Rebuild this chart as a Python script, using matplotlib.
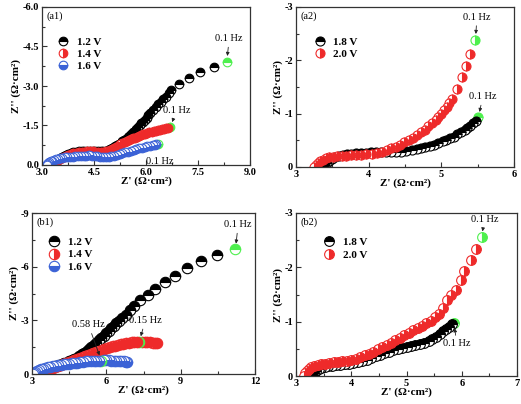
import matplotlib
matplotlib.use('Agg')
import matplotlib.pyplot as plt
from matplotlib.ticker import MultipleLocator, FormatStrFormatter

plt.rcParams['font.family'] = ['Liberation Serif', 'DejaVu Serif']
plt.rcParams['axes.unicode_minus'] = False

# ---- data (Z' , Z'') ----
# (a1)
a1_re_12 = [3.30,3.33,3.37,3.41,3.46,3.51,3.57,3.63,3.69,3.76,3.83,3.90,3.98,4.06,4.14,4.22,4.30,4.38,4.46,4.54,
            4.62,4.70,4.77,4.84,4.90,4.96,5.02,5.07,5.12,5.17,5.22,5.27,5.32,5.37,5.42,5.47,5.52,5.57,5.62,5.67,
            5.72,5.77,5.82,5.87,5.92,5.97,6.02,6.07,6.12,6.20,6.28,6.35,6.42,6.50,6.57,6.65,6.73,6.94,7.23,7.56,
            7.95,8.33]
a1_im_12 = [0,-0.05,-0.10,-0.15,-0.20,-0.25,-0.30,-0.34,-0.38,-0.42,-0.45,-0.48,-0.50,-0.52,-0.53,-0.54,-0.55,-0.55,-0.55,-0.54,
            -0.53,-0.52,-0.52,-0.53,-0.56,-0.59,-0.63,-0.67,-0.71,-0.75,-0.80,-0.85,-0.90,-0.95,-1.00,-1.06,-1.12,-1.18,-1.24,-1.30,
            -1.37,-1.44,-1.51,-1.58,-1.65,-1.72,-1.80,-1.88,-1.96,-2.08,-2.20,-2.30,-2.40,-2.50,-2.60,-2.72,-2.85,-3.07,-3.32,-3.54,
            -3.73,-3.93]
a1_re_14 = [3.30,3.33,3.37,3.41,3.46,3.51,3.57,3.63,3.69,3.76,3.83,3.90,3.98,4.06,4.14,4.22,4.30,4.38,4.46,4.54,
            4.62,4.70,4.77,4.84,4.90,4.96,5.02,5.08,5.14,5.20,5.26,5.32,5.38,5.44,5.50,5.56,5.62,5.68,5.74,5.80,
            5.86,5.92,5.98,6.04,6.10,6.16,6.22,6.28,6.34,6.40,6.46,6.52,6.58,6.64,6.70]
a1_im_14 = [0,-0.05,-0.10,-0.14,-0.19,-0.23,-0.28,-0.32,-0.36,-0.39,-0.42,-0.45,-0.47,-0.49,-0.50,-0.51,-0.52,-0.52,-0.52,-0.51,
            -0.50,-0.50,-0.50,-0.52,-0.55,-0.58,-0.62,-0.66,-0.70,-0.74,-0.78,-0.82,-0.86,-0.90,-0.94,-0.97,-1.01,-1.04,-1.07,-1.10,
            -1.13,-1.16,-1.19,-1.21,-1.24,-1.26,-1.28,-1.30,-1.32,-1.34,-1.36,-1.38,-1.40,-1.42,-1.43]
a1_re_16 = [3.13,3.15,3.18,3.21,3.25,3.29,3.34,3.39,3.45,3.51,3.58,3.65,3.72,3.80,3.88,3.96,4.04,4.12,4.20,4.28,
            4.36,4.44,4.52,4.60,4.68,4.76,4.84,4.92,5.00,5.08,5.16,5.24,5.32,5.40,5.48,5.56,5.64,5.72,5.80,5.88,
            5.96,6.04,6.12,6.19,6.25,6.30,6.34]
a1_im_16 = [0,-0.04,-0.08,-0.11,-0.14,-0.17,-0.20,-0.22,-0.24,-0.26,-0.28,-0.29,-0.30,-0.31,-0.32,-0.33,-0.34,-0.35,-0.36,-0.36,
            -0.37,-0.36,-0.35,-0.34,-0.32,-0.31,-0.30,-0.31,-0.33,-0.36,-0.39,-0.42,-0.45,-0.48,-0.51,-0.54,-0.57,-0.60,-0.63,-0.66,
            -0.68,-0.71,-0.73,-0.75,-0.77,-0.78,-0.79]

# (a2)
a2_re_18 = [3.38,3.40,3.43,3.46,3.50,3.54,3.59,3.64,3.70,3.76,3.82,3.89,3.96,4.03,4.10,4.17,4.24,4.31,4.38,4.45,
            4.52,4.59,4.66,4.72,4.78,4.84,4.90,4.96,5.02,5.07,5.12,5.17,5.22,5.27,5.32,5.36,5.40,5.44,5.48,5.51]
a2_im_18 = [0,-0.04,-0.08,-0.12,-0.15,-0.18,-0.20,-0.22,-0.24,-0.25,-0.26,-0.27,-0.27,-0.28,-0.28,-0.28,-0.28,-0.28,-0.28,-0.29,
            -0.30,-0.31,-0.33,-0.35,-0.37,-0.39,-0.42,-0.45,-0.48,-0.51,-0.54,-0.57,-0.61,-0.65,-0.69,-0.73,-0.77,-0.82,-0.87,-0.93]
a2_re_20 = [3.25,3.27,3.30,3.33,3.37,3.41,3.46,3.51,3.57,3.63,3.69,3.76,3.83,3.90,3.97,4.04,4.11,4.18,4.25,4.31,
            4.37,4.43,4.49,4.55,4.61,4.67,4.72,4.77,4.82,4.87,4.92,4.96,5.00,5.04,5.08,5.11,5.14,5.21,5.28,5.34,
            5.40,5.47]
a2_im_20 = [0,-0.04,-0.08,-0.11,-0.14,-0.16,-0.18,-0.19,-0.20,-0.21,-0.21,-0.22,-0.22,-0.23,-0.24,-0.25,-0.27,-0.29,-0.32,-0.35,
            -0.38,-0.42,-0.46,-0.50,-0.55,-0.60,-0.65,-0.70,-0.76,-0.82,-0.88,-0.94,-1.00,-1.06,-1.13,-1.20,-1.27,-1.47,-1.68,-1.89,
            -2.12,-2.39]

# (b1)
b1_re_12 = [3.30,3.35,3.41,3.48,3.56,3.64,3.73,3.82,3.91,4.00,4.10,4.20,4.30,4.40,4.50,4.60,4.70,4.80,4.90,5.00,
            5.10,5.20,5.30,5.40,5.50,5.60,5.70,5.80,5.90,6.00,6.10,6.20,6.30,6.40,6.50,6.64,6.80,6.96,7.13,7.37,
            7.67,7.98,8.36,8.77,9.27,9.82,10.46,11.21]
b1_im_12 = [0,-0.06,-0.12,-0.18,-0.24,-0.29,-0.34,-0.38,-0.42,-0.46,-0.50,-0.54,-0.59,-0.64,-0.70,-0.77,-0.84,-0.92,-1.01,-1.10,
            -1.20,-1.30,-1.41,-1.52,-1.64,-1.76,-1.88,-2.01,-2.14,-2.27,-2.41,-2.55,-2.69,-2.84,-2.97,-3.12,-3.32,-3.55,-3.81,-4.15,
            -4.43,-4.74,-5.12,-5.49,-5.92,-6.29,-6.67,-6.98]
b1_re_14 = [3.25,3.31,3.38,3.46,3.55,3.64,3.74,3.84,3.94,4.05,4.16,4.27,4.38,4.49,4.60,4.71,4.82,4.93,5.04,5.15,
            5.26,5.37,5.48,5.59,5.70,5.81,5.92,6.03,6.14,6.25,6.36,6.47,6.58,6.69,6.80,6.91,7.02,7.12,7.22,7.33,
            7.44,7.55,7.66,7.77,7.88,7.97,8.05]
b1_im_14 = [0,-0.06,-0.12,-0.17,-0.22,-0.27,-0.32,-0.36,-0.40,-0.45,-0.50,-0.55,-0.61,-0.67,-0.73,-0.79,-0.85,-0.91,-0.97,-1.03,
            -1.09,-1.14,-1.19,-1.24,-1.29,-1.34,-1.39,-1.44,-1.49,-1.54,-1.58,-1.62,-1.66,-1.69,-1.72,-1.75,-1.77,-1.79,-1.80,-1.81,
            -1.81,-1.80,-1.79,-1.77,-1.75,-1.73,-1.72]
b1_re_16 = [3.05,3.09,3.14,3.20,3.27,3.35,3.44,3.53,3.63,3.73,3.84,3.95,4.06,4.17,4.28,4.39,4.50,4.61,4.72,4.83,
            4.94,5.05,5.16,5.27,5.38,5.49,5.60,5.70,5.80,5.90,6.00,6.10,6.20,6.30,6.40,6.50,6.60,6.70,6.78,6.82]
b1_im_16 = [0,-0.06,-0.12,-0.17,-0.22,-0.26,-0.30,-0.34,-0.37,-0.40,-0.43,-0.46,-0.49,-0.51,-0.54,-0.56,-0.58,-0.60,-0.62,-0.64,
            -0.66,-0.68,-0.70,-0.71,-0.72,-0.73,-0.74,-0.75,-0.75,-0.76,-0.76,-0.76,-0.75,-0.74,-0.73,-0.72,-0.71,-0.70,-0.69,-0.68]

# (b2)
b2_re_18 = [3.30,3.33,3.37,3.41,3.46,3.52,3.58,3.65,3.72,3.80,3.88,3.96,4.04,4.12,4.20,4.28,4.36,4.44,4.52,4.60,
            4.68,4.76,4.84,4.92,5.00,5.08,5.16,5.24,5.32,5.40,5.47,5.54,5.60,5.66,5.72,5.77,5.82,5.86]
b2_im_18 = [0,-0.05,-0.09,-0.12,-0.15,-0.17,-0.18,-0.19,-0.20,-0.21,-0.22,-0.23,-0.24,-0.26,-0.28,-0.30,-0.33,-0.36,-0.39,-0.42,
            -0.45,-0.48,-0.50,-0.52,-0.54,-0.55,-0.57,-0.59,-0.61,-0.64,-0.68,-0.72,-0.77,-0.82,-0.87,-0.91,-0.95,-0.98]
b2_re_20 = [3.15,3.17,3.20,3.24,3.28,3.33,3.39,3.45,3.52,3.60,3.68,3.76,3.84,3.92,4.00,4.08,4.16,4.24,4.32,4.40,
            4.48,4.56,4.64,4.72,4.80,4.88,4.96,5.04,5.12,5.20,5.28,5.36,5.44,5.52,5.59,5.66,5.74,5.81,5.89,5.98,
            6.04,6.16,6.25,6.36]
b2_im_20 = [0,-0.05,-0.09,-0.13,-0.16,-0.19,-0.21,-0.22,-0.23,-0.24,-0.25,-0.26,-0.27,-0.28,-0.30,-0.32,-0.35,-0.38,-0.41,-0.45,
            -0.49,-0.53,-0.57,-0.61,-0.66,-0.70,-0.75,-0.79,-0.84,-0.88,-0.92,-0.97,-1.02,-1.08,-1.15,-1.25,-1.40,-1.50,-1.59,-1.77,
            -1.94,-2.14,-2.33,-2.56]

# points marked in green (Z' of the marked frequency)
b1_green_14 = 7.33
b1_green_16 = 5.80

BLACK = '#000000'
RED = '#ee2a2a'
BLUE = '#3b62d6'
GREEN = '#4ef04e'

fig = plt.figure(figsize=(5.21, 4.04), dpi=100)
W, H = 521.0, 404.0


def make_ax(l, t, r, b):
    return fig.add_axes([l / W, 1 - b / H, (r - l) / W, (b - t) / H])


def nyq(ax, x, y, color, fs, ms, label, green_x=None):
    # one artist per point, low-frequency end first, so each half-filled
    # marker is overlapped by the next one as in the original plot
    kw = dict(ls='none', marker='o', ms=ms, fillstyle=fs, markerfacecoloralt='white', mew=0.8)
    gi = len(x) - 1 if green_x is None else x.index(green_x)
    handle = None
    for i in range(len(x) - 1, -1, -1):
        c = GREEN if i == gi else color
        h, = ax.plot(x[i], y[i], color=c, mec=c, **kw)
        if i != gi and handle is None:
            h.set_label(label)
            handle = h
    return handle


def style(ax, xlim, ylim, xmaj, ymaj, fmt, tag):
    ax.set_xlim(*xlim)
    ax.set_ylim(*ylim)
    ax.xaxis.set_major_locator(MultipleLocator(xmaj))
    ax.xaxis.set_minor_locator(MultipleLocator(xmaj / 2))
    ax.yaxis.set_major_locator(MultipleLocator(ymaj))
    ax.yaxis.set_minor_locator(MultipleLocator(ymaj / 2))
    ax.xaxis.set_major_formatter(FormatStrFormatter(fmt))
    ax.yaxis.set_major_formatter(FormatStrFormatter(fmt))
    ax.tick_params(which='both', direction='in', top=False, right=False, color='#333333', width=0.8)
    ax.tick_params(which='major', length=3.5, labelsize=7.5, pad=2)
    ax.tick_params(which='minor', length=2)
    for lab in ax.get_xticklabels() + ax.get_yticklabels():
        lab.set_fontweight('bold')
    for s in ax.spines.values():
        s.set_color('#333333')
        s.set_linewidth(0.9)
    ax.set_xlabel("Z' (Ω·cm²)", fontsize=8, fontweight='bold', labelpad=0)
    ax.set_ylabel("Z'' (Ω·cm²)", fontsize=8, fontweight='bold', labelpad=1)
    ax.text(0.02, 0.97, tag, transform=ax.transAxes, ha='left', va='top', fontsize=7.5)


def note(ax, txt, xy, xytext):
    ax.annotate(txt, xy=xy, xytext=xytext, fontsize=7.5, ha='center', va='center',
                annotation_clip=False,
                arrowprops=dict(arrowstyle='-|>', color='#222222', lw=0.6,
                                mutation_scale=5, shrinkA=1, shrinkB=4))


def leg(ax, handles, anchor, spacing):
    ax.legend(handles=handles, loc='upper left', bbox_to_anchor=anchor, frameon=False,
              prop={'weight': 'bold', 'size': 8}, handlelength=1.2, handletextpad=0.6,
              labelspacing=spacing, borderpad=0, borderaxespad=0)


# (a1)
ax = make_ax(42, 7, 250, 165)
h1 = nyq(ax, a1_re_12, a1_im_12, BLACK, 'top', 6.2, '1.2 V')
h2 = nyq(ax, a1_re_14, a1_im_14, RED, 'right', 6.2, '1.4 V')
h3 = nyq(ax, a1_re_16, a1_im_16, BLUE, 'bottom', 6.2, '1.6 V')
style(ax, (3.0, 9.0), (0, -6.0), 1.5, 1.5, '%.1f', '(a1)')
leg(ax, [h1, h2, h3], (0.07, 0.81), 0.2)
note(ax, '0.1 Hz', (a1_re_12[-1], a1_im_12[-1]), (8.40, -4.80))
note(ax, '0.1 Hz', (a1_re_14[-1], a1_im_14[-1]), (6.88, -2.08))
ax.text(6.41, -0.15, '0.1 Hz', fontsize=7.5, ha='center', va='center')

# (a2)
ax = make_ax(296, 7, 514, 167)
h1 = nyq(ax, a2_re_18, a2_im_18, BLACK, 'top', 6.5, '1.8 V')
h2 = nyq(ax, a2_re_20, a2_im_20, RED, 'right', 6.5, '2.0 V')
style(ax, (3, 6), (0, -3), 1, 1, '%d', '(a2)')
leg(ax, [h1, h2], (0.08, 0.81), 0.2)
note(ax, '0.1 Hz', (a2_re_20[-1], a2_im_20[-1]), (5.49, -2.81))
note(ax, '0.1 Hz', (a2_re_18[-1], a2_im_18[-1]), (5.57, -1.32))

# (b1)
ax = make_ax(32, 213, 255, 374)
h1 = nyq(ax, b1_re_12, b1_im_12, BLACK, 'top', 7.5, '1.2 V')
h2 = nyq(ax, b1_re_14, b1_im_14, RED, 'right', 7.5, '1.4 V', b1_green_14)
h3 = nyq(ax, b1_re_16, b1_im_16, BLUE, 'bottom', 7.5, '1.6 V', b1_green_16)
style(ax, (3, 12), (0, -9), 3, 3, '%d', '(b1)')
leg(ax, [h1, h2, h3], (0.07, 0.85), 0.25)
note(ax, '0.1 Hz', (b1_re_12[-1], b1_im_12[-1]), (11.32, -8.35))
note(ax, '0.58 Hz', (b1_green_16, -0.75), (5.28, -2.74))
note(ax, '0.15 Hz', (b1_green_14, -1.81), (7.57, -2.99))

# (b2)
ax = make_ax(296, 213, 517, 376)
h1 = nyq(ax, b2_re_18, b2_im_18, BLACK, 'top', 7.0, '1.8 V')
h2 = nyq(ax, b2_re_20, b2_im_20, RED, 'right', 7.0, '2.0 V')
style(ax, (3, 7), (0, -3), 1, 1, '%d', '(b2)')
leg(ax, [h1, h2], (0.12, 0.85), 0.25)
note(ax, '0.1 Hz', (b2_re_20[-1], b2_im_20[-1]), (6.41, -2.88))
note(ax, '0.1 Hz', (b2_re_18[-1], b2_im_18[-1]), (5.91, -0.59))

fig.savefig('out.png', dpi=100)
